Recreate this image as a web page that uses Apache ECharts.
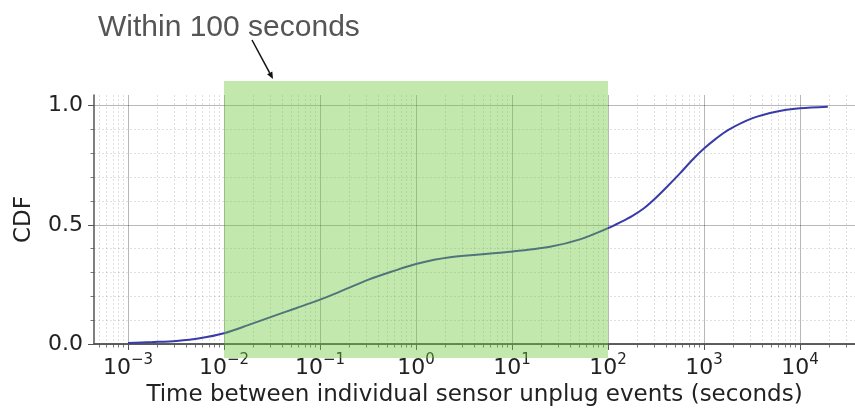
<!DOCTYPE html>
<html><head><meta charset="utf-8">
<script src="https://cdn.jsdelivr.net/npm/echarts@6/dist/echarts.min.js"></script>
<style>html,body{margin:0;padding:0;background:#fff}#c{width:855px;height:409px}</style>
</head><body><div id="c"></div>
<script>
// ---- data ----
const timeValues = [0.001, 0.0018, 0.0032, 0.0056, 0.01, 0.0178, 0.0316, 0.0562, 0.1, 0.178, 0.316, 0.562, 1, 2.26, 9.5, 24.9, 51, 100, 133, 178, 237, 316, 422, 562, 750, 1000, 1334, 1778, 3162, 5623, 10000, 19500];
const cdfValues  = [0.004, 0.008, 0.013, 0.024, 0.045, 0.079, 0.115, 0.15, 0.186, 0.227, 0.269, 0.304, 0.336, 0.364, 0.387, 0.408, 0.439, 0.486, 0.510, 0.537, 0.570, 0.614, 0.664, 0.716, 0.771, 0.820, 0.862, 0.898, 0.947, 0.975, 0.989, 0.996];
const xMajorTicks = [0.001, 0.01, 0.1, 1, 10, 100, 1000, 10000];
const xTickExponents = ['−3', '−2', '−1', '0', '1', '2', '3', '4'];
const yMajorTicks = [0, 0.5, 1];
const yTickLabels = ['0.0', '0.5', '1.0'];
const yMinorTicks = [0.1, 0.2, 0.3, 0.4, 0.6, 0.7, 0.8, 0.9];
const shadedInterval = [0.01, 100];
const annotationText = 'Within 100 seconds';
const xTitle = 'Time between individual sensor unplug events (seconds)';
const yTitle = 'CDF';

// ---- axis ranges ----
const xMin = Math.pow(10, -3.354), xMax = Math.pow(10, 4.573);
const yMin = 0, yMax = 1.045;
const xMinorTicks = [];
for (let e = -4; e <= 4; e++) for (let k = 2; k <= 9; k++) {
  const v = k * Math.pow(10, e);
  if (v > xMin && v < xMax) xMinorTicks.push(v);
}

const FONT = 'DejaVu Sans';
const TXT = '#222';
const SPINE = '#555';

const chart = echarts.init(document.getElementById('c'), null, {renderer: 'canvas'});

function expLabel(v) {
  const e = Math.round(Math.log10(v));
  const i = xMajorTicks.findIndex(t => Math.round(Math.log10(t)) === e);
  return '{b|10}{s|' + (i >= 0 ? xTickExponents[i] : e) + '}';
}

// arrow geometry (layout)
const arrowStart = [252, 40], arrowEnd = [273, 79];
const dx = arrowEnd[0] - arrowStart[0], dy = arrowEnd[1] - arrowStart[1];
const len = Math.hypot(dx, dy), ux = dx / len, uy = dy / len;
const headL = 7, headW = 3;
const hb = [arrowEnd[0] - ux * headL, arrowEnd[1] - uy * headL];

const option = {
  animation: false,
  backgroundColor: '#fff',
  grid: {left: 94, right: 0, top: 95, bottom: 65, containLabel: false, outerBoundsMode: 'none'},
  xAxis: [
    {
      type: 'log', logBase: 10, min: xMin, max: xMax, position: 'bottom',
      axisLine: {show: true, onZero: false, lineStyle: {color: SPINE, width: 1.5}},
      axisTick: {show: true, customValues: xMajorTicks, length: 6, lineStyle: {color: SPINE, width: 1}},
      axisLabel: {
        show: true, customValues: xMajorTicks, margin: 9, formatter: expLabel,
        rich: {
          b: {fontFamily: FONT, fontSize: 22, color: TXT, lineHeight: 26, verticalAlign: 'bottom'},
          s: {fontFamily: FONT, fontSize: 15, color: TXT, lineHeight: 26, verticalAlign: 'top'}
        }
      },
      splitLine: {show: true, lineStyle: {color: 'rgba(0,0,0,0.28)', width: 1}},
      name: xTitle, nameLocation: 'middle', nameGap: 37,
      nameTextStyle: {fontFamily: FONT, fontSize: 23, color: TXT}
    },
    {
      type: 'log', logBase: 10, min: xMin, max: xMax, position: 'bottom',
      axisLine: {show: false},
      axisTick: {show: true, customValues: xMinorTicks, length: 3.5, lineStyle: {color: SPINE, width: 0.8}},
      axisLabel: {show: false},
      splitLine: {show: true, lineStyle: {color: 'rgba(0,0,0,0.12)', width: 1, type: [2, 2]}}
    },
    {
      type: 'log', logBase: 10, min: xMin, max: xMax, position: 'top',
      axisLine: {show: true, lineStyle: {color: SPINE, width: 1.5}},
      axisTick: {show: false}, axisLabel: {show: false}, splitLine: {show: false}
    }
  ],
  yAxis: [
    {
      type: 'value', min: yMin, max: yMax, position: 'left',
      axisLine: {show: true, onZero: false, lineStyle: {color: SPINE, width: 1.5}},
      axisTick: {show: true, customValues: yMajorTicks, length: 6, lineStyle: {color: SPINE, width: 1}},
      axisLabel: {
        show: true, customValues: yMajorTicks, margin: 11,
        formatter: v => yTickLabels[yMajorTicks.findIndex(t => Math.abs(t - v) < 1e-6)],
        fontFamily: FONT, fontSize: 22, color: TXT
      },
      splitLine: {show: true, lineStyle: {color: 'rgba(0,0,0,0.28)', width: 1}},
      name: yTitle, nameLocation: 'middle', nameGap: 58, nameRotate: 90,
      nameTextStyle: {fontFamily: FONT, fontSize: 23, color: TXT}
    },
    {
      type: 'value', min: yMin, max: yMax, position: 'left',
      axisLine: {show: false},
      axisTick: {show: true, customValues: yMinorTicks, length: 3.5, lineStyle: {color: SPINE, width: 0.8}},
      axisLabel: {show: false},
      splitLine: {show: true, lineStyle: {color: 'rgba(0,0,0,0.12)', width: 1, type: [2, 2]}}
    }
  ],
  series: [
    {
      type: 'line', xAxisIndex: 0, yAxisIndex: 0,
      data: timeValues.map((t, i) => [t, cdfValues[i]]),
      smooth: 0.3, showSymbol: false, symbol: 'none',
      lineStyle: {color: '#3a3aa8', width: 2}, z: 3
    },
    {
      type: 'custom', xAxisIndex: 0, yAxisIndex: 0, clip: false, z: 10,
      encode: {x: [0, 1]},
      data: [[shadedInterval[0], shadedInterval[1]]],
      renderItem: function (params, api) {
        const p1 = api.coord([api.value(0), yMin]);
        const p2 = api.coord([api.value(1), yMax]);
        const ext = 14;
        return {
          type: 'rect',
          shape: {x: p1[0], y: p2[1] - ext, width: p2[0] - p1[0], height: p1[1] - p2[1] + 2 * ext},
          style: {fill: 'rgba(110,200,60,0.42)'}
        };
      }
    }
  ],
  graphic: [
    {type: 'text', left: 98, top: 13, z: 20,
     style: {text: annotationText, fontFamily: 'Liberation Sans', fontSize: 30, fill: '#555'}},
    {type: 'line', z: 20, shape: {x1: arrowStart[0], y1: arrowStart[1], x2: hb[0], y2: hb[1]},
     style: {stroke: '#111', lineWidth: 1.5}},
    {type: 'polygon', z: 20,
     shape: {points: [arrowEnd, [hb[0] - uy * headW, hb[1] + ux * headW], [hb[0] + uy * headW, hb[1] - ux * headW]]},
     style: {fill: '#111'}}
  ]
};
chart.setOption(option);
</script></body></html>
